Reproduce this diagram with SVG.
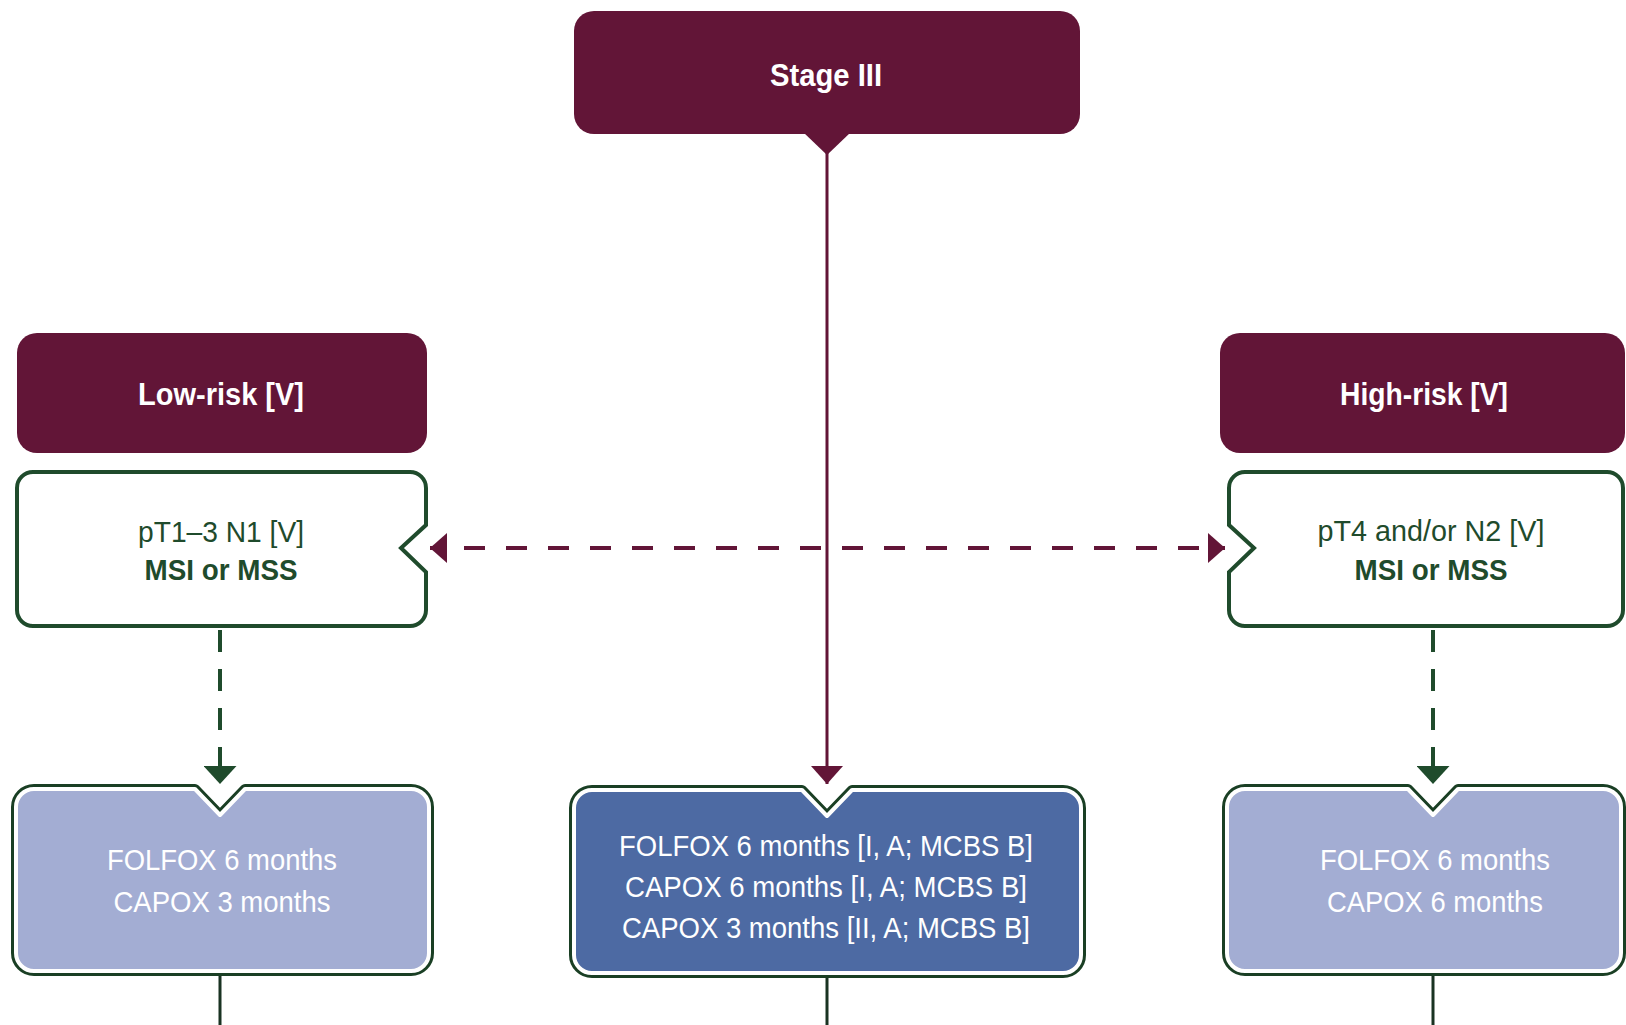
<svg xmlns="http://www.w3.org/2000/svg" width="1626" height="1025" viewBox="0 0 1626 1025">
<defs>
<style>
.hdr{fill:#621537}
.hdrtxt{font-family:"Liberation Sans",Arial,sans-serif;font-weight:bold;font-size:31px;fill:#ffffff;text-anchor:middle}
.crit{fill:#ffffff;stroke:#1f4b2c;stroke-width:4}
.crittxt{font-family:"Liberation Sans",Arial,sans-serif;font-size:29px;fill:#1f4b2c;text-anchor:middle}
.bold{font-weight:bold}
.outer{fill:none;stroke:#1a3f24;stroke-width:10;stroke-linejoin:round}
.inL{fill:#a3add3;stroke:#ffffff;stroke-width:4;stroke-linejoin:round}
.inD{fill:#4d6aa3;stroke:#ffffff;stroke-width:4;stroke-linejoin:round}
.txw{font-family:"Liberation Sans",Arial,sans-serif;font-size:30px;fill:#ffffff;text-anchor:middle}
.m{stroke:#621537;stroke-width:3;fill:none}
.g{stroke:#1f4b2c;stroke-width:4;fill:none}
.dm{stroke-width:4;stroke-dasharray:21 21;stroke-dashoffset:8}
.dg{stroke-dasharray:22 17}
</style>
<marker id="arrM" viewBox="0 0 18 32" refX="18" refY="16" markerWidth="18" markerHeight="32" markerUnits="userSpaceOnUse" orient="auto-start-reverse"><path d="M0,0 L18,16 L0,32 Z" fill="#621537"/></marker>
<marker id="arrH" viewBox="0 0 17 30" refX="17" refY="15" markerWidth="17" markerHeight="30" markerUnits="userSpaceOnUse" orient="auto-start-reverse"><path d="M0,0 L17,15 L0,30 Z" fill="#621537"/></marker>
<marker id="arrG" viewBox="0 0 18 33" refX="18" refY="16.5" markerWidth="18" markerHeight="33" markerUnits="userSpaceOnUse" orient="auto"><path d="M0,0 L18,16.5 L0,33 Z" fill="#1f4b2c"/></marker>
</defs>
<rect width="1626" height="1025" fill="#ffffff"/>

<g id="connectors">
<path class="m" d="M827,150 L827,784" marker-end="url(#arrM)"/>
<path class="m dm" d="M430,548 L1225,548" marker-start="url(#arrH)" marker-end="url(#arrH)"/>
<path class="g dg" d="M220,630 L220,784" marker-end="url(#arrG)"/>
<path class="g dg" d="M1433,630 L1433,784" marker-end="url(#arrG)"/>
<path d="M220,975 L220,1025 M827,977 L827,1025 M1433,975 L1433,1025" stroke="#1a3322" stroke-width="3" fill="none"/>
</g>

<g id="stage3">
<rect class="hdr" x="574" y="11" width="506" height="123" rx="20"/>
<path class="hdr" d="M803,132 L851,132 L827,155 Z"/>
<text class="hdrtxt" x="826" y="86" textLength="112" lengthAdjust="spacingAndGlyphs">Stage III</text>
</g>

<g id="lowrisk">
<rect class="hdr" x="17" y="333" width="410" height="120" rx="20"/>
<text class="hdrtxt" x="221" y="405" textLength="166" lengthAdjust="spacingAndGlyphs">Low-risk [V]</text>
</g>

<g id="highrisk">
<rect class="hdr" x="1220" y="333" width="405" height="120" rx="20"/>
<text class="hdrtxt" x="1424" y="405" textLength="168" lengthAdjust="spacingAndGlyphs">High-risk [V]</text>
</g>

<g id="lowcrit">
<path class="crit" d="M33,472 L410,472 A16,16 0 0 1 426,488 L426,525 L401,548 L426,572 L426,610 A16,16 0 0 1 410,626 L33,626 A16,16 0 0 1 17,610 L17,488 A16,16 0 0 1 33,472 Z"/>
<text class="crittxt" x="221" y="542" textLength="166" lengthAdjust="spacingAndGlyphs">pT1–3 N1 [V]</text>
<text class="crittxt bold" x="221" y="580" textLength="153" lengthAdjust="spacingAndGlyphs">MSI or MSS</text>
</g>

<g id="highcrit">
<path class="crit" d="M1245,472 L1607,472 A16,16 0 0 1 1623,488 L1623,610 A16,16 0 0 1 1607,626 L1245,626 A16,16 0 0 1 1229,610 L1229,572 L1254,548 L1229,525 L1229,488 A16,16 0 0 1 1245,472 Z"/>
<text class="crittxt" x="1431" y="541" textLength="227" lengthAdjust="spacingAndGlyphs">pT4 and/or N2 [V]</text>
<text class="crittxt bold" x="1431" y="580" textLength="153" lengthAdjust="spacingAndGlyphs">MSI or MSS</text>
</g>

<g id="lowtx">
<path class="outer" d="M34,789 L195,789 L220,815 L245,789 L411,789 A18,18 0 0 1 429,807 L429,953 A18,18 0 0 1 411,971 L34,971 A18,18 0 0 1 16,953 L16,807 A18,18 0 0 1 34,789 Z"/>
<path class="inL" d="M34,789 L195,789 L220,815 L245,789 L411,789 A18,18 0 0 1 429,807 L429,953 A18,18 0 0 1 411,971 L34,971 A18,18 0 0 1 16,953 L16,807 A18,18 0 0 1 34,789 Z"/>
<text class="txw" x="222" y="870" textLength="230" lengthAdjust="spacingAndGlyphs">FOLFOX 6 months</text>
<text class="txw" x="222" y="912" textLength="217" lengthAdjust="spacingAndGlyphs">CAPOX 3 months</text>
</g>

<g id="midtx">
<path class="outer" d="M592,790 L802,790 L827,816 L852,790 L1063,790 A18,18 0 0 1 1081,808 L1081,955 A18,18 0 0 1 1063,973 L592,973 A18,18 0 0 1 574,955 L574,808 A18,18 0 0 1 592,790 Z"/>
<path class="inD" d="M592,790 L802,790 L827,816 L852,790 L1063,790 A18,18 0 0 1 1081,808 L1081,955 A18,18 0 0 1 1063,973 L592,973 A18,18 0 0 1 574,955 L574,808 A18,18 0 0 1 592,790 Z"/>
<text class="txw" x="826" y="856" textLength="414" lengthAdjust="spacingAndGlyphs">FOLFOX 6 months [I, A; MCBS B]</text>
<text class="txw" x="826" y="897" textLength="402" lengthAdjust="spacingAndGlyphs">CAPOX 6 months [I, A; MCBS B]</text>
<text class="txw" x="826" y="938" textLength="408" lengthAdjust="spacingAndGlyphs">CAPOX 3 months [II, A; MCBS B]</text>
</g>

<g id="hightx">
<path class="outer" d="M1245,789 L1408,789 L1433,815 L1458,789 L1603,789 A18,18 0 0 1 1621,807 L1621,953 A18,18 0 0 1 1603,971 L1245,971 A18,18 0 0 1 1227,953 L1227,807 A18,18 0 0 1 1245,789 Z"/>
<path class="inL" d="M1245,789 L1408,789 L1433,815 L1458,789 L1603,789 A18,18 0 0 1 1621,807 L1621,953 A18,18 0 0 1 1603,971 L1245,971 A18,18 0 0 1 1227,953 L1227,807 A18,18 0 0 1 1245,789 Z"/>
<text class="txw" x="1435" y="870" textLength="230" lengthAdjust="spacingAndGlyphs">FOLFOX 6 months</text>
<text class="txw" x="1435" y="912" textLength="216" lengthAdjust="spacingAndGlyphs">CAPOX 6 months</text>
</g>
</svg>
